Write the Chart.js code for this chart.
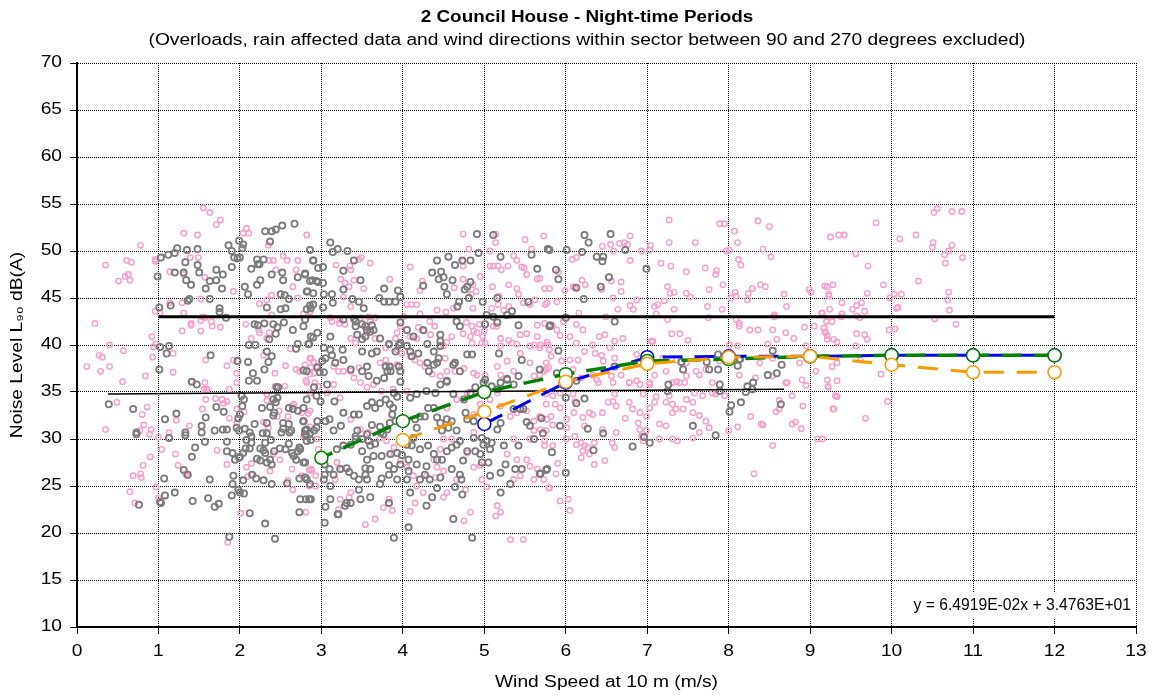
<!DOCTYPE html>
<html>
<head>
<meta charset="utf-8">
<script src="https://cdn.jsdelivr.net/npm/chart.js@4.4.1/dist/chart.umd.min.js"></script>
<style>
html,body{margin:0;padding:0;background:#fff;}
#wrap{width:1154px;height:700px;}
</style>
</head>
<body>
<div id="wrap"><canvas id="c" width="1154" height="700"></canvas></div>
<script>
const titleText = "2 Council House - Night-time Periods";
const subtitleText = "(Overloads, rain affected data and wind directions within sector between 90 and 270 degrees excluded)";
const xTitle = "Wind Speed at 10 m (m/s)";
const yTitle = "Noise Level L\u2089\u2080 dB(A)";
const equationText = "y = 6.4919E-02x + 3.4763E+01";

const speeds = [3, 4, 5, 6, 7, 8, 9, 10, 11, 12];
const greenLevels = [28.0, 31.9, 35.0, 36.9, 38.3, 38.5, 38.8, 38.9, 38.9, 38.9];
const blueLevels = [null, null, 31.6, 36.0, 38.7, 38.8, 38.8, 38.9, 38.9, 38.9];
const orangeLevels = [null, 29.9, 32.9, 36.1, 38.0, 38.7, 38.8, 37.9, 37.1, 37.1];
const limitLine = [[1, 43], [12, 43]];
const trendLine = [[0.38, 34.8], [8.68, 35.3]];

const greyPoints = [
[0.99,47.3],[1.03,49.3],[1.12,49.6],[1.2,49.8],[1.23,50.3],[1.35,50.1],[1.48,50.2],
[1.33,48.8],[1.48,48.5],[1.5,47.7],[1.2,47.7],[1.31,47.7],[1.34,46.9],[1.4,46.4],
[1.71,48.0],[1.79,47.5],[1.63,46.8],[1.71,46.9],[1.58,46.0],[1.78,46.0],
[1.86,50.6],[1.9,50.0],[1.93,49.3],[1.97,49.2],[2.0,49.3],[1.99,51.1],[2.04,50.7],[2.03,50.3],[1.9,48.3],
[2.31,52.1],[2.39,52.1],[2.44,52.3],[2.52,52.7],[2.67,52.9],[2.37,51.0],
[2.14,48.1],[2.21,49.1],[2.22,48.6],[2.24,48.6],[2.29,49.1],[2.25,46.9],[2.21,46.4],[2.39,47.5],[2.52,47.7],[2.53,46.9],[2.06,46.2],[2.1,45.4],
[2.5,45.4],[2.55,45.3],[2.6,44.9],[2.56,43.9],[2.33,44.0],[2.5,43.8],
[2.71,47.2],[2.8,47.5],[2.82,45.7],[2.86,46.8],[2.86,50.1],[2.9,49.0],[2.94,46.8],[2.96,48.2],
[2.82,43.8],[2.86,44.2],[2.9,44.3],
[1.01,44.0],[1.15,44.2],[1.38,44.9],[1.36,44.7],[1.63,44.9],[1.75,43.9],[1.75,43.5],[1.83,42.9],
[2.18,42.2],[2.22,42.1],[2.3,42.3],[2.41,42.2],[2.46,41.9],[2.44,41.2],[2.54,42.4],[2.65,41.6],[2.78,42.0],[2.9,40.8],[2.95,41.3],
[2.36,40.6],[2.11,40.0],[2.19,40.0],[2.33,39.3],[2.39,38.8],[2.35,38.2],
[1.02,39.8],[1.13,39.9],[1.1,39.1],[1.64,38.9],[1.97,38.3],[2.1,38.2],[2.3,37.4],[2.16,37.0],[2.11,36.2],[2.21,36.2],[2.45,35.5],[2.85,40.1],[2.71,40.1],[2.69,39.6],[2.78,37.3],[2.98,37.1],
[1.01,37.4],[1.41,36.1],[1.47,35.8],
[0.39,33.7],[0.69,33.2],[0.73,30.7],[0.73,30.5],[1.08,32.1],[1.22,32.7],[1.13,30.1],[1.33,30.7],[1.33,30.4],[1.45,29.1],[1.41,28.1],[1.31,26.7],[1.36,26.2],[1.07,25.8],[1.08,24.0],[1.2,24.3],[1.02,23.3],[1.03,23.2],[0.76,23.0],[1.42,23.4],
[1.53,31.4],[1.53,30.7],[1.57,29.7],[1.58,32.3],[1.71,33.4],[1.8,32.9],[1.69,30.9],[1.79,31.0],[1.84,31.0],[1.84,29.7],[1.84,28.7],[1.91,28.5],[1.94,27.8],[1.99,28.0],[1.63,25.7],[1.92,26.1],[1.91,25.2],[1.9,24.0],[1.61,23.7],[1.69,22.8],[1.74,23.1],[1.87,19.6],[1.98,24.6],[2.0,24.3],[2.05,24.2],[2.04,25.6],[2.12,22.1],[2.31,21.0],[2.43,19.4],
[1.96,31.2],[1.99,30.9],[2.06,31.1],[2.12,30.7],[2.14,30.3],[2.08,29.9],[2.14,29.6],[2.07,29.0],[2.04,28.5],[2.0,28.1],[2.12,29.0],
[2.02,34.6],[2.05,34.2],[2.03,33.5],[2.0,32.6],[1.98,32.2],[2.18,31.6],[2.33,31.7],[2.28,30.6],[2.33,30.6],
[2.31,29.6],[2.38,29.9],[2.25,29.0],[2.29,28.8],[2.31,28.5],[2.42,28.7],[2.37,27.8],[2.21,27.9],[2.25,27.7],[2.33,27.5],[2.39,27.3],[2.15,26.2],[2.2,25.8],[2.29,25.6],[2.39,25.2],
[2.27,33.3],[2.37,33.4],[2.41,34.2],[2.44,33.9],[2.46,34.4],[2.47,35.5],[2.42,32.8],[2.41,32.5],
[2.53,31.7],[2.6,31.6],[2.63,30.9],[2.61,30.7],[2.53,31.1],[2.51,30.7],
[2.6,33.3],[2.65,33.2],[2.71,33.0],[2.78,33.3],[2.82,34.2],[2.78,31.9],[2.82,31.0],[2.86,30.6],[2.8,30.5],[2.82,29.8],
[2.49,29.0],[2.56,28.9],[2.6,29.5],[2.66,28.2],[2.69,27.8],[2.73,29.1],[2.71,28.7],[2.78,27.5],[2.64,28.5],
[2.73,25.8],[2.8,25.9],[2.58,25.3],[2.86,25.2],[2.81,23.6],[2.85,23.6],[2.73,22.2],[2.94,31.2],[2.95,31.9],[2.87,29.9],
[3.11,50.9],[3.14,49.9],[3.2,50.2],[3.32,50.0],[2.9,49.0],
[3.4,49.0],[3.27,47.9],[3.48,46.9],[3.27,45.9],[3.02,48.3],[3.02,46.6],[2.96,46.7],[2.89,46.9],[2.8,47.6],
[2.83,45.7],[2.9,45.5],[3.03,45.4],[3.13,45.4],[3.14,44.5],[3.38,44.9],[3.46,44.6],[3.52,43.9],[3.71,45.0],[3.77,44.6],[3.83,44.6],[3.91,44.6],[3.77,46.0],[3.94,45.8],[3.97,45.1],
[2.87,43.9],[3.02,44.0],[2.8,42.7],[3.27,42.7],[3.4,42.8],[3.42,42.5],
[4.42,49.0],[4.56,49.4],[4.64,48.5],[4.73,49.0],[4.83,49.0],[4.91,51.8],[4.93,49.8],[5.11,51.7],[5.2,49.4],[5.65,48.1],[5.58,49.6],
[4.36,47.7],[4.44,47.0],[4.47,47.8],[4.5,47.2],[4.51,46.2],[4.61,46.9],[4.54,45.4],[4.69,44.6],[4.67,44.1],[4.81,45.0],[4.79,46.2],[4.83,46.7],[4.76,45.9],[4.98,44.6],[5.16,45.0],
[4.25,46.3],[5.54,44.6],
[5.03,43.2],[5.11,43.0],[5.16,42.4],[5.28,43.2],[5.34,43.6],[5.42,42.1],
[5.8,50.1],[5.8,42.0],[4.66,42.5],[4.7,42.0],[5.01,42.2],
[3.97,42.4],[4.05,41.6],[3.97,40.2],[4.13,40.9],[4.25,41.6],[4.3,40.1],[4.46,40.4],[4.46,39.9],[4.46,41.1],
[2.87,40.9],[2.84,40.1],[3.03,39.7],[3.11,39.5],[3.13,38.9],[3.05,38.6],[3.01,38.3],[2.95,37.6],[3.03,37.1],[2.82,37.2],[3.11,40.9],
[3.26,39.5],[3.17,38.1],[3.27,38.4],[3.42,42.0],[3.5,42.2],[3.54,42.0],[3.56,41.6],[3.62,42.1],[3.64,41.6],[3.44,41.1],[3.5,40.6],[3.54,40.9],[3.6,41.4],
[3.5,39.3],[3.62,39.1],[3.68,39.3],[3.72,40.7],[3.83,40.1],[3.91,39.3],[3.95,40.0],
[3.36,37.4],[3.5,37.2],[3.56,37.7],[3.58,36.7],[3.68,36.2],[3.77,36.5],[3.81,37.2],[3.79,37.7],[3.84,37.7],[3.85,37.2],[3.95,37.7],[3.97,37.2],[3.97,36.1],
[4.05,39.9],[4.09,39.3],[4.11,38.8],[4.19,39.1],[4.3,38.1],[4.32,37.2],[4.38,37.9],[4.42,38.1],[4.44,38.6],[4.38,39.3],[4.54,36.1],[4.62,37.9],[4.64,38.1],[4.7,37.2],[4.79,39.0],[4.85,39.0],
[4.99,36.0],[5.18,39.1],[5.28,36.4],[5.42,36.7],[5.46,38.4],
[2.94,34.6],[2.99,34.0],[2.91,35.5],
[2.78,31.9],[2.8,30.9],[2.91,30.9],[2.74,28.9],[2.82,30.3],[2.8,27.5],[2.82,25.7],[2.74,23.6],[2.87,23.6],
[3.07,35.8],[3.16,34.0],[3.1,32.1],[3.05,31.9],[3.04,27.3],[3.1,26.8],[3.04,26.2],[3.11,25.0],[3.05,22.8],[3.11,23.6],[3.04,21.1],[3.2,22.0],
[3.15,30.9],[3.24,31.4],[3.27,32.8],[3.4,32.6],[3.46,32.6],[3.44,30.9],[3.42,30.3],[3.5,30.0],[3.56,30.5],[3.58,29.8],[3.6,29.3],[3.66,29.5],[3.62,31.5],[3.72,31.3],[3.73,30.7],[3.76,30.5],[3.81,31.0],[3.84,31.7],[3.91,31.9],
[3.56,33.5],[3.62,33.9],[3.66,33.3],[3.72,33.8],[3.79,34.2],[3.84,33.7],[3.88,33.3],[3.89,34.9],[3.93,34.5],[3.87,32.6],
[3.19,28.9],[3.27,29.3],[3.36,29.4],[3.42,30.0],[3.5,28.7],[3.56,27.8],[3.64,28.2],[3.74,28.2],[3.85,28.4],[3.93,28.5],[3.99,28.3],
[3.03,25.7],[3.15,26.2],[3.23,26.8],[3.31,26.9],[3.34,26.5],[3.4,26.1],[3.46,25.7],[3.54,26.2],[3.54,26.9],[3.6,26.8],[3.56,25.7],
[3.74,25.8],[3.83,27.2],[3.83,26.2],[3.89,26.8],[3.93,25.7],[3.97,27.3],[4.07,27.8],[4.07,26.6],[4.05,25.7],
[3.46,24.6],[3.48,23.6],[3.6,23.8],[3.72,25.2],[3.83,23.2],[3.31,23.2],[3.29,22.9],[3.36,23.2],[3.21,22.0],
[4.07,20.6],[3.89,19.5],
[4.05,29.4],[4.11,29.3],[4.13,30.1],[4.17,31.2],[4.15,32.1],[4.21,32.4],[4.27,32.4],[4.31,33.3],[4.38,33.3],[4.42,32.3],[4.46,31.7],[4.48,30.9],
[4.29,35.1],[4.4,34.9],[4.46,35.8],[4.54,36.2],[4.17,34.8],[4.09,34.4],
[4.21,28.9],[4.31,29.3],[4.38,28.4],[4.42,27.8],[4.48,27.8],[4.54,28.7],[4.6,29.1],[4.66,29.4],[4.7,29.8],[4.66,30.9],[4.56,31.2],[4.54,32.1],[4.6,31.9],
[4.17,27.3],[4.29,27.1],[4.27,26.2],[4.21,25.7],[4.33,25.7],[4.42,24.8],[4.46,25.9],[4.6,26.8],[4.7,26.2],[4.72,25.7],[4.64,24.9],[4.74,27.7],[4.79,28.7],[4.89,28.7],[4.87,30.1],
[4.09,24.3],[4.29,22.9],[4.36,23.8],[4.73,24.1],[4.62,21.5],[4.85,19.5],[4.95,28.4],[4.99,29.4],[4.97,30.1],[5.03,29.8],
[4.79,32.1],[4.87,31.9],[4.77,32.8],[4.75,34.2],[4.62,34.8],[4.83,34.9],[4.89,35.5],[5.01,36.3],[5.09,35.6],
[4.97,27.5],[5.05,27.5],[5.07,26.1],[5.2,26.4],[5.2,24.3],[5.32,25.2],[5.26,27.3],[5.38,26.8],[5.46,26.8],[5.69,26.3],[5.77,26.8],
[5.03,31.4],[5.16,31.0],[5.2,31.7],[5.36,33.2],[5.44,33.2],[5.48,33.2],[5.52,31.8],[5.56,31.4],
[5.16,35.3],[5.2,36.0],[5.28,36.3],[5.36,35.8],
[5.07,28.9],[5.09,29.6],[5.24,29.3],[5.42,29.3],[5.61,30.0],
[5.78,50.2],[6.01,50.1],[6.2,49.9],[6.23,51.7],[6.28,50.9],[6.55,51.8],[6.73,50.1],[6.38,49.4],[6.46,49.4],[6.45,48.9],
[5.88,48.0],[5.91,47.0],[6.13,46.1],[6.43,46.2],[6.53,47.2],[6.22,44.9],[6.99,48.1],
[6.0,42.9],[5.81,42.1],[6.6,42.5],[5.91,39.4],[5.89,37.0],[6.13,36.2],[5.68,37.4],
[6.6,37.7],[7.26,35.8],[7.42,38.2],[7.44,37.4],[7.73,38.2],[7.76,37.4],[7.87,37.4],[7.87,39.0],[8.13,38.5],[8.11,37.8],[8.14,38.5],[8.54,39.4],[8.65,37.9],[8.48,36.8],[8.59,37.0],[8.3,36.0],[8.23,35.6],[7.89,35.8],
[5.7,32.2],[5.72,30.6],[5.93,31.4],[5.83,28.6],[6.0,34.4],[6.13,33.8],[6.23,34.3],[6.27,31.1],[6.46,30.6],[5.76,26.7],[5.68,26.3],[6.0,26.4],[6.34,28.8],[6.82,29.2],[6.96,30.2],[7.03,29.6],[7.25,35.1],[7.56,31.4],[7.84,30.4],[8.01,32.9],[8.03,33.6],[8.15,33.9],[7.89,35.1],[8.21,35.0],[8.29,35.3],[8.64,33.7]
];

const pinkPoints = [
[1.55,54.6],[1.63,54.1],[1.71,52.8],[1.76,53.3],[1.31,51.9],[1.48,51.7],[0.78,50.6],[0.35,48.5],[0.61,49.0],[0.67,48.8],[0.59,47.3],[0.63,47.5],[0.51,46.8],[0.65,46.9],[0.96,49.1],[0.96,48.9],[1.14,47.8],[1.39,49.3],[1.49,49.3],[1.57,47.2],[1.31,47.5],
[2.08,52.4],[2.11,51.9],[2.04,51.9],[2.35,50.6],[2.41,49.0],[2.36,49.0],[2.53,49.5],[2.58,49.0],[2.71,49.0],[2.44,48.0],[2.69,48.0],[2.82,51.7],[2.65,46.2],[2.71,45.0],[2.24,44.4],[2.33,44.8],[2.39,45.3],[1.92,45.7],[1.52,44.9],[1.14,44.5],[1.29,44.5],[1.31,43.4],[0.96,43.6],[1.02,43.4],[0.22,42.3],
[1.4,42.3],[1.4,42.1],[1.29,41.5],[1.54,43.0],[1.52,42.6],[1.65,42.5],[1.66,42.0],[1.57,42.9],[1.76,41.9],[1.52,41.5],[2.07,42.2],[2.23,41.6],[2.14,40.7],[2.24,41.3],[2.36,41.3],[2.33,40.7],[2.39,43.2],[2.78,43.3],[2.86,43.5],
[0.92,40.9],[0.94,39.8],[0.97,40.1],[0.93,38.7],[0.4,40.0],[0.57,39.4],[0.27,38.9],[0.31,38.7],[0.12,37.7],[0.29,37.2],[0.4,37.7],[0.56,36.1],[0.84,36.7],[1.18,39.1],[1.18,37.1],[1.58,38.4],[1.84,37.8],[1.92,38.4],[1.96,37.0],[1.96,36.0],[2.29,38.9],[2.43,37.0],[2.56,37.8],[2.62,39.6],[2.69,37.4],[2.73,37.2],[2.86,38.6],[2.9,38.2],[2.94,37.7],[2.86,36.9],[2.82,36.0],[1.4,36.1],[1.57,36.0],[1.59,35.3],
[0.49,33.9],[0.8,32.6],[0.86,33.4],[0.82,31.5],[0.77,30.9],[0.91,31.0],[0.89,30.5],[1.0,30.2],[0.35,31.0],[1.04,28.9],[0.9,28.1],[0.81,27.2],[0.69,26.1],[0.78,26.3],[0.79,25.9],[0.65,24.4],[0.97,24.9],[1.0,23.7],[0.71,23.2],
[1.22,32.0],[1.13,30.7],[1.21,28.4],[1.24,27.2],[1.35,26.1],[1.33,26.3],[1.38,31.4],[1.54,33.2],[1.58,34.2],[1.7,34.3],[1.78,34.2],[1.84,34.0],[1.8,33.8],[1.87,35.3],[1.56,35.3],[1.6,35.3],[1.84,27.3],[1.72,28.8],[1.87,32.2],[1.96,33.2],[2.05,32.9],[1.96,31.7],[2.08,27.0],[2.14,27.4],[2.14,26.2],[2.1,26.0],[2.01,22.1],[1.85,19.0],
[2.33,34.1],[2.33,34.8],[2.29,31.8],[2.35,31.2],[2.48,33.0],[2.46,32.4],[2.59,32.4],[2.37,26.6],[2.41,28.4],[2.64,26.8],[2.59,25.6],[2.65,24.6],[2.76,26.1],[2.85,26.7],[2.88,26.7],[2.93,25.0],[2.77,31.9],[2.84,32.7],[2.86,31.3],[2.95,30.0],[2.96,28.9],[2.81,36.2],[2.86,34.9],[2.96,35.6],[2.64,33.5],[2.66,33.7],[2.49,27.8],[2.43,35.6],[2.55,35.6],
[3.18,48.5],[3.35,48.4],[3.36,48.0],[3.49,49.3],[3.46,49.1],[3.6,48.7],[3.24,47.0],[3.29,46.6],[3.34,46.2],[3.4,46.9],[3.52,46.0],[3.27,45.1],[3.36,44.1],[3.23,42.7],[3.84,47.0],[4.09,48.3],[4.21,45.8],[4.24,46.8],[4.05,44.3],[4.11,44.3],[4.17,44.3],[4.01,43.0],[4.21,43.3],[4.33,42.5],[4.42,43.7],[4.53,43.5],[4.62,43.9],
[4.63,46.1],[4.74,47.0],[4.86,46.4],[4.9,45.7],[4.84,45.4],[4.86,43.9],[4.95,47.3],[4.74,51.8],[4.81,50.2],[4.74,48.9],[4.74,48.4],
[5.14,51.8],[5.14,50.9],[5.07,50.0],[5.07,48.4],[5.11,48.4],[5.17,48.4],[5.21,48.0],[5.29,48.4],[5.36,49.5],[5.4,49.0],[5.5,51.2],[5.46,48.3],[5.49,48.2],[5.58,50.2],[5.65,47.0],[5.52,47.5],
[5.1,46.2],[5.18,45.2],[5.3,46.4],[5.4,46.0],[5.42,45.4],[5.48,44.5],[5.56,44.3],[5.62,44.8],[5.75,44.3],[5.8,46.0],[5.09,43.9],[5.17,44.3],[5.24,43.7],[5.3,44.1],
[5.11,42.0],[5.0,41.5],[4.98,40.9],[5.15,42.0],[5.01,40.2],[5.2,40.7],[5.3,40.5],[5.44,41.1],[5.4,40.1],[5.34,40.2],[5.52,41.2],[5.65,42.1],[5.69,40.0],[5.77,40.3],
[4.78,42.4],[4.85,42.0],[4.87,41.5],[4.94,42.2],[4.74,41.2],[4.83,40.9],[4.91,41.3],[4.85,40.2],[4.97,40.2],
[4.6,40.9],[4.54,40.3],[4.5,39.9],[4.34,41.1],[4.39,42.0],[4.26,41.5],[4.19,41.9],[4.17,40.7],[4.09,40.9],
[3.97,42.0],[3.93,41.3],[3.91,40.7],[3.83,40.0],[3.79,39.7],[3.93,39.5],[3.97,40.2],
[3.66,40.7],[3.56,41.3],[3.6,42.5],[3.66,42.9],[3.58,43.0],[3.48,42.9],[3.42,40.2],[3.36,40.7],[3.29,42.2],[3.22,42.3],[3.13,42.5],[3.11,42.9],
[2.87,38.6],[2.91,38.1],[2.87,37.6],[2.8,37.9],[2.91,37.0],[3.15,37.7],[3.21,37.2],[3.27,37.2],[3.36,37.2],[3.4,36.5],[3.48,36.0],[3.46,37.6],
[3.72,38.1],[3.79,38.4],[3.83,37.7],[3.93,37.9],[3.99,39.1],[4.09,38.8],[4.15,38.4],[4.21,38.1],[4.27,37.7],[4.36,36.9],[4.46,36.7],[4.52,38.6],[4.54,37.2],[4.64,37.2],[4.75,37.5],[4.87,37.0],[4.91,36.8],
[5.01,36.8],[5.2,36.8],[5.16,37.7],[5.28,38.3],[5.36,37.2],[5.56,38.1],[5.61,36.7],[5.73,37.2],[5.79,37.6],
[5.65,40.9],[5.61,40.0],[5.56,39.9],[5.44,39.1],[5.2,39.9],
[2.76,32.8],[2.86,33.0],[2.92,36.0],[2.78,30.3],[2.87,26.8],[2.93,26.1],[2.85,25.0],[2.81,22.2],
[3.19,27.5],[3.25,26.8],[3.17,25.7],[3.36,24.3],[3.34,23.8],[3.23,23.6],[3.21,22.5],[3.54,20.9],[3.66,21.5],[3.76,22.7],[3.83,23.6],[3.87,22.4],
[3.07,34.9],[3.15,35.8],[3.23,34.4],[3.27,32.8],[3.36,32.1],[3.48,31.0],[3.58,30.7],[3.72,30.1],[3.8,29.8],
[3.56,35.5],[3.64,35.8],[3.74,35.1],[3.88,35.3],
[3.89,29.1],[3.83,28.4],[3.97,27.7],[4.05,27.0],[4.13,26.1],[4.17,25.0],[4.25,24.3],[4.15,23.2],[4.09,22.3],[4.29,26.1],[4.42,27.0],[4.5,26.6],
[4.54,24.3],[4.66,25.7],[4.77,24.6],[4.83,22.2],[4.75,21.3],[4.5,23.8],[4.4,25.9],[4.38,27.8],[4.46,28.9],[4.5,30.0],[4.6,30.0],
[4.87,27.0],[4.95,27.2],[4.97,25.7],[5.03,24.9],[5.16,22.9],[5.2,22.2],[5.14,21.8],[5.32,19.3],[5.48,19.3],
[5.2,33.5],[5.32,32.4],[5.4,32.8],[5.52,33.0],[5.61,31.9],[5.69,32.3],[5.77,32.1],[5.69,31.0],[5.61,30.9],[5.56,30.0],[5.36,30.0],
[5.28,28.4],[5.4,27.8],[5.52,27.8],[5.65,26.8],[5.61,25.7],[5.73,25.7],[5.79,24.8],[5.56,27.1],[5.44,26.1],[5.36,25.7],
[4.79,28.5],[4.87,30.7],[4.87,32.6],[4.95,33.7],[5.07,34.2],[5.16,34.9],[4.54,33.3],[4.66,34.2],[4.79,34.9],[4.05,35.1],
[5.73,51.6],[7.27,53.3],[7.89,52.9],[7.95,52.9],[8.36,53.2],[8.5,52.6],[8.07,52.1],[8.11,50.9],[7.59,50.9],[7.97,50.0],[8.01,50.1],[7.27,50.9],[7.04,50.6],[7.03,50.1],[6.93,50.0],[6.66,50.8],[6.72,50.9],[6.79,51.6],[6.76,50.7],[6.45,50.5],[6.55,50.7],[6.59,50.0],[6.08,49.1],[6.13,49.3],[6.79,49.0],[8.42,50.2],[8.52,49.4],[9.25,51.5],[8.12,49.1],[8.15,48.5],[7.17,48.7],[7.29,48.4],[7.48,47.8],[7.71,48.2],[7.85,47.9],[7.84,47.5],[5.91,47.8],[5.68,47.1],
[6.2,46.9],[6.24,46.4],[6.09,46.2],[6.11,46.1],[6.56,46.8],[6.68,46.7],[6.68,45.7],[6.44,45.9],[7.25,46.2],[7.28,45.5],[7.33,45.6],[7.76,45.9],[7.93,46.4],[8.29,46.0],[8.39,46.4],[8.45,46.2],[8.08,45.6],[8.09,45.2],[8.24,45.5],[8.23,44.8],[8.03,45.0],[7.48,45.5],[7.53,45.1],[8.68,45.4],[8.99,45.9],[9.01,45.6],[9.21,46.2],[9.28,46.4],[9.23,45.2],
[5.77,44.5],[5.89,44.6],[5.74,46.0],[5.99,45.8],[6.58,45.0],[6.87,44.8],[6.79,44.2],[6.83,43.8],[6.64,43.8],[7.09,44.1],[7.13,44.3],[7.11,43.3],[7.21,44.7],[7.33,43.8],[7.74,44.1],[8.71,44.1],[7.92,43.8],[9.24,43.8],[6.16,43.4],[6.49,43.0],[7.75,42.9],[8.56,43.2],[8.56,43.0],[9.15,43.4],
[5.97,42.5],[6.13,42.2],[5.84,42.0],[5.74,42.3],[5.89,41.6],[5.93,41.0],[6.05,40.9],[6.13,40.2],[6.21,41.6],[6.41,40.9],[6.48,41.1],[6.7,40.7],[6.6,40.4],[6.33,40.0],[5.78,40.0],[7.25,42.7],[7.3,41.2],[7.4,41.2],[7.5,40.5],[7.05,40.4],
[8.09,42.7],[8.13,42.3],[8.13,42.0],[8.26,41.6],[8.36,41.6],[8.54,41.6],[8.7,41.3],[8.8,40.7],[8.93,41.9],[9.05,42.0],[9.17,41.8],[9.18,41.4],[9.27,42.5],[9.29,40.6],[8.01,40.0],[8.11,39.9],[8.48,40.1],[8.59,40.6],
[5.68,39.7],[5.8,39.5],[5.82,38.8],[5.76,38.1],[5.95,38.3],[6.05,38.4],[6.15,38.4],[6.23,39.3],[6.36,39.1],[6.44,38.9],[6.54,39.7],[6.46,38.3],[6.6,38.6],[6.87,39.0],[7.07,40.4],[7.19,38.6],[7.36,38.4],[7.48,38.1],[7.6,37.2],[7.72,37.4],[7.89,38.3],[8.38,38.1],[8.54,38.6],[8.87,38.1],[8.95,39.9],[9.07,37.2],[9.27,37.7],[9.33,38.1],
[5.68,36.8],[5.76,37.4],[6.09,37.4],[6.19,36.5],[6.33,36.8],[6.4,36.0],[6.56,36.7],[6.68,36.8],[6.78,36.0],[6.91,35.8],[7.09,36.8],[7.23,37.2],[7.36,36.1],[7.48,36.7],[7.64,36.8],[7.8,36.0],[8.13,36.8],[8.33,36.5],[8.54,36.7],[8.72,36.0],[8.9,36.3],[9.21,36.3],
[5.76,34.8],[5.84,34.6],[5.93,34.9],[5.87,33.7],[5.93,33.3],[5.76,33.7],[5.68,32.4],[5.82,32.4],[5.84,31.5],[6.01,32.1],[6.01,31.2],[5.76,30.9],[5.74,29.8],[5.74,29.3],[5.84,29.3],[5.9,27.4],[5.88,26.3],[5.8,24.8],[5.93,23.4],[6.03,23.6],[6.05,22.4],
[6.09,34.8],[6.11,34.0],[6.1,32.8],[6.21,32.3],[6.29,32.8],[6.33,32.6],[6.23,31.4],[6.01,30.0],[6.11,30.3],[6.13,29.4],[6.19,29.6],[6.23,29.3],[6.27,29.1],[6.21,28.7],[6.19,28.0],[6.29,28.4],[6.35,29.6],[6.35,27.3],[6.48,27.7],
[6.52,33.9],[6.58,34.0],[6.62,33.5],[6.6,34.8],[6.45,32.8],[6.62,30.7],[6.57,29.6],[6.6,29.1],[6.45,31.0],
[6.73,32.2],[6.78,33.9],[6.82,33.2],[6.91,32.8],[6.89,31.7],[6.91,31.0],[6.93,30.3],[6.95,29.8],[6.99,30.9],[6.99,32.4],[7.03,33.3],[7.09,33.9],[7.11,34.5],[7.03,36.0],[6.95,34.8],
[7.23,33.9],[7.31,33.7],[7.27,34.6],[7.35,33.2],[7.31,32.8],[7.44,33.2],[7.48,34.2],[7.56,33.9],[7.56,32.8],[7.58,34.9],[7.68,34.6],[7.8,34.9],[7.84,34.8],[7.95,34.6],[7.64,32.5],[7.72,31.9],[7.76,31.2],
[7.15,31.6],[7.23,31.4],[7.15,30.0],[7.31,30.0],[7.37,29.8],[7.56,30.1],[7.64,30.7],[8.0,30.9],[8.11,31.3],[8.27,32.4],[8.4,31.6],[8.42,31.5],[8.31,26.3],[8.54,29.3],
[8.58,32.9],[8.62,33.2],[8.62,34.1],[8.7,36.0],[8.78,34.6],[8.91,33.5],[8.78,31.6],[8.82,31.8],[8.89,31.1],[8.95,35.7],[9.09,30.0],[9.15,30.0],[9.22,35.6],[9.29,33.2],[9.31,34.6],
[6.38,36.3],[6.58,36.0],[6.78,36.0],[6.87,36.2],[7.03,35.8],[7.31,36.0],[7.4,36.0],[7.46,36.0],
[10.56,54.5],[10.52,54.1],[10.74,54.2],[10.86,54.2],[9.81,53.0],[9.35,51.7],[9.42,51.7],[10.1,51.3],[10.3,51.7],[10.51,50.9],[10.5,50.4],[10.74,50.6],[10.7,50.0],[10.65,49.6],[10.66,48.7],[10.87,49.3],[9.56,49.7],[9.71,48.4],
[9.18,46.3],[9.23,45.4],[9.9,46.4],[9.7,45.5],[10.33,46.8],[10.03,45.4],[9.98,45.0],[10.12,45.4],[10.06,43.9],[10.08,44.0],[10.7,45.6],[10.69,44.8],[10.71,43.7],[10.79,42.2],[10.53,42.8],
[9.39,44.5],[9.63,44.5],[9.57,44.2],[9.52,43.8],[9.67,43.6],[9.14,43.4],[9.39,43.3],[9.38,43.0],[9.57,43.1],[9.61,42.9],
[9.2,42.5],[9.17,41.8],[9.19,41.3],[9.21,41.0],[9.21,40.6],[9.33,40.3],[9.57,41.2],[9.67,41.1],[9.7,40.6],[9.56,39.9],[9.97,41.6],[10.04,41.7],
[9.62,38.4],[9.87,36.9],[9.33,36.2],[9.22,35.5],
[9.33,34.5],[9.28,33.2],[9.68,32.2],[9.95,34.0]
];

const toXY = arr => arr.map(p => ({x: p[0], y: p[1]}));
const seriesXY = levels => speeds.map((s, i) => ({x: s, y: levels[i]})).filter(p => p.y !== null);

const FONT = "'Liberation Sans', Arial, Helvetica, sans-serif";
Chart.defaults.font.family = FONT;
Chart.defaults.color = '#000';

const canvas = document.getElementById('c');
const ctx2d = canvas.getContext('2d');
// Reference text is drawn horizontally widened; widen glyphs along the baseline.
const nativeFillText = ctx2d.fillText;
ctx2d.textStretch = 1.2;
ctx2d.fillText = function (text, x, y, maxWidth) {
  let s = this.textStretch || 1;
  if (s !== 1 && /bold/.test(this.font)) { s = 1.18; }
  if (s === 1) { return nativeFillText.call(this, text, x, y); }
  this.save();
  this.translate(x, y);
  this.scale(s, 1);
  nativeFillText.call(this, text, 0, 0);
  this.restore();
};

const equationPlugin = {
  id: 'equation',
  afterDatasetsDraw(chart) {
    const ctx = chart.ctx;
    ctx.save();
    ctx.fillStyle = '#fff';
    ctx.fillRect(905, 593, 229, 26);
    ctx.fillStyle = '#000';
    ctx.font = "16px " + FONT;
    ctx.textAlign = 'right';
    ctx.textBaseline = 'alphabetic';
    const prev = ctx.textStretch;
    ctx.textStretch = 0.98;
    ctx.fillText(equationText, 1131, 610);
    ctx.textStretch = prev;
    ctx.restore();
  }
};

const lineMarker = {pointStyle: 'circle', pointRadius: 6.5, pointHoverRadius: 6.5, pointBorderWidth: 1.5, pointBackgroundColor: '#fff'};

new Chart(canvas, {
  type: 'scatter',
  data: {
    datasets: [
      Object.assign({label: 'Orange', data: seriesXY(orangeLevels), showLine: true, borderColor: '#ff9900', borderWidth: 3, borderDash: [20, 13], pointBorderColor: '#ff9900', order: 0}, lineMarker),
      Object.assign({label: 'Green', data: seriesXY(greenLevels), showLine: true, borderColor: '#008000', borderWidth: 3.5, borderDash: [20, 12], borderDashOffset: 8, pointBorderColor: '#008000', order: 1}, lineMarker),
      Object.assign({label: 'Blue', data: seriesXY(blueLevels), showLine: true, borderColor: '#0000ff', borderWidth: 3, borderDash: [20, 12], pointBorderColor: '#0000ff', order: 2}, lineMarker),
      {label: 'Limit', data: toXY(limitLine), showLine: true, borderColor: '#000', borderWidth: 3, pointRadius: 0, order: 3},
      {label: 'Trend', data: toXY(trendLine), showLine: true, borderColor: '#000', borderWidth: 1.5, pointRadius: 0, order: 4},
      {label: 'Grey', data: toXY(greyPoints), borderColor: '#7a7a7a', backgroundColor: 'rgba(0,0,0,0)', pointRadius: 3.1, pointBorderWidth: 1.8, order: 5},
      {label: 'Pink', data: toXY(pinkPoints), borderColor: '#ff99cc', backgroundColor: 'rgba(0,0,0,0)', pointRadius: 2.7, pointBorderWidth: 1.4, order: 6}
    ]
  },
  options: {
    responsive: false,
    animation: false,
    events: [],
    layout: {padding: {left: 38, right: 18, top: 0, bottom: 0}},
    plugins: {
      legend: {display: false},
      tooltip: {enabled: false},
      title: {display: true, text: titleText, color: '#000', font: {size: 16, weight: 'bold'}, padding: {top: 8, bottom: 0}},
      subtitle: {display: true, text: subtitleText, color: '#000', font: {size: 16}, padding: {top: 4, bottom: 12.6}}
    },
    scales: {
      x: {
        type: 'linear', min: 0, max: 13,
        ticks: {stepSize: 1, font: {size: 16}, color: '#000', padding: 8, maxRotation: 0},
        grid: {color: '#000', lineWidth: 1, tickLength: 7, tickColor: '#000', tickBorderDash: []},
        border: {display: true, color: '#000', width: 2, dash: [1, 1]},
        title: {display: true, text: xTitle, color: '#000', font: {size: 16}, padding: {top: 4, bottom: 7.4}},
        afterFit(scale) { scale.height = 73; }
      },
      y: {
        type: 'linear', min: 10, max: 70,
        ticks: {stepSize: 5, font: {size: 16}, color: '#000', padding: 8},
        grid: {color: '#000', lineWidth: 1, tickLength: 7, tickColor: '#000', tickBorderDash: []},
        border: {display: true, color: '#000', width: 2, dash: [1, 1]},
        title: {display: true, text: yTitle, color: '#000', font: {size: 16}, padding: {top: -29.6, bottom: 4}},
        afterFit(scale) { scale.width = 39; }
      }
    }
  },
  plugins: [equationPlugin]
});
</script>
</body>
</html>
